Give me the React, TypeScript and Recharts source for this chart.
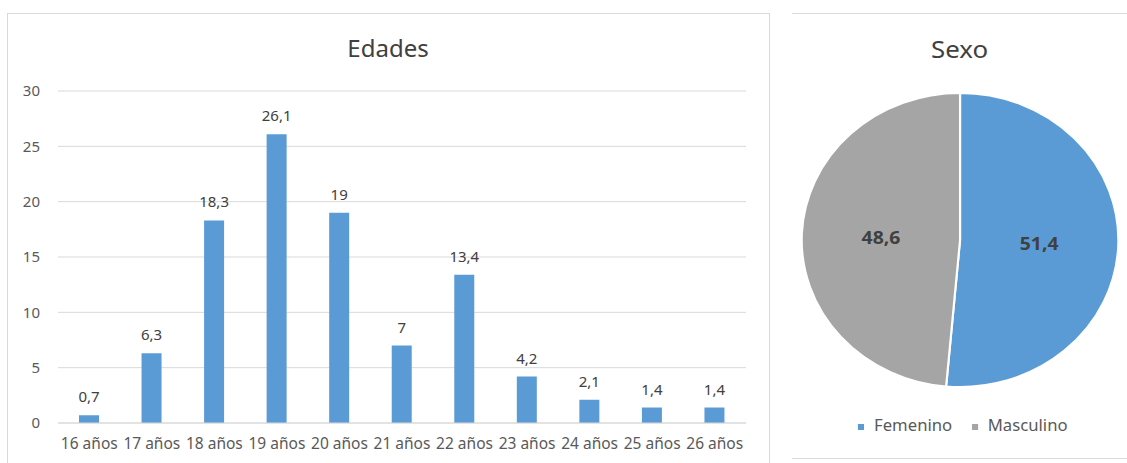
import React from "react";
import {
  BarChart,
  Bar,
  XAxis,
  YAxis,
  CartesianGrid,
  LabelList,
  PieChart,
  Pie,
  Cell,
  Legend,
} from "recharts";

const ageLabels = [
  "16 años",
  "17 años",
  "18 años",
  "19 años",
  "20 años",
  "21 años",
  "22 años",
  "23 años",
  "24 años",
  "25 años",
  "26 años",
];
const ageValues = [0.7, 6.3, 18.3, 26.1, 19, 7, 13.4, 4.2, 2.1, 1.4, 1.4];
const yTicks = [0, 5, 10, 15, 20, 25, 30];

const sexLabels = ["Femenino", "Masculino"];
const sexValues = [51.4, 48.6];
const sexColors = ["#5B9BD5", "#A5A5A5"];

const barData = ageLabels.map((name, i) => ({ name, value: ageValues[i] }));
const pieData = sexLabels.map((name, i) => ({ name, value: sexValues[i] }));

const FONT = "'Noto Sans', 'Open Sans', sans-serif";
const fmt = (v: any) => String(v).replace(".", ",");

const RAD = Math.PI / 180;
const renderPieLabel = (props: any) => {
  const { cx, cy, midAngle, outerRadius, value } = props;
  const r = outerRadius * 0.5;
  const x = cx + r * Math.cos(-midAngle * RAD);
  const y = cy + r * Math.sin(-midAngle * RAD);
  return (
    <text
      x={x}
      y={y}
      fill="#404040"
      fontSize={18}
      fontWeight="bold"
      fontFamily={FONT}
      textAnchor="middle"
      dominantBaseline="central"
    >
      {fmt(value)}
    </text>
  );
};

export default function App() {
  const SCALE = 335 / 311;
  return (
    <div
      style={{
        position: "absolute",
        left: 0,
        top: 0,
        width: 1127,
        height: 463,
        overflow: "hidden",
        background: "#fff",
        fontFamily: FONT,
      }}
    >
      {/* left box */}
      <div
        style={{
          position: "absolute",
          left: 7,
          top: 13,
          width: 761,
          height: 470,
          border: "1px solid #D9D9D9",
        }}
      />
      <div
        style={{
          position: "absolute",
          left: 7,
          top: 30,
          width: 762,
          textAlign: "center",
          fontSize: 24,
          color: "#404040",
          lineHeight: "36px",
        }}
      >
        Edades
      </div>
      <div style={{ position: "absolute", left: 0, top: 0 }}>
        <BarChart
          width={770}
          height={463}
          data={barData}
          margin={{ top: 91, right: 24, left: 0, bottom: 0 }}
          barCategoryGap="0%"
        >
          <CartesianGrid vertical={false} stroke="#D9D9D9" />
          <XAxis
            dataKey="name"
            height={40}
            interval={0}
            tickLine={false}
            axisLine={{ stroke: "#D9D9D9" }}
            tick={{ fill: "#595959", fontSize: 15.5, fontFamily: FONT }}
            tickMargin={9}
          />
          <YAxis
            width={58}
            domain={[0, 30]}
            ticks={yTicks}
            interval={0}
            tickLine={false}
            axisLine={false}
            tick={{ fill: "#595959", fontSize: 15, fontFamily: FONT }}
            tickMargin={12}
          />
          <Bar
            dataKey="value"
            fill="#5B9BD5"
            barSize={20}
            isAnimationActive={false}
          >
            <LabelList
              dataKey="value"
              position="top"
              offset={13}
              formatter={fmt}
              fill="#404040"
              fontSize={15}
              fontFamily={FONT}
            />
          </Bar>
        </BarChart>
      </div>

      {/* right box */}
      <div
        style={{
          position: "absolute",
          left: 792,
          top: 13,
          width: 335,
          height: 444,
          borderTop: "1px solid #D9D9D9",
          borderBottom: "1px solid #D9D9D9",
        }}
      >
        <div
          style={{
            position: "absolute",
            left: 0,
            top: 0,
            width: 311,
            height: 444,
            transform: `scaleX(${SCALE})`,
            transformOrigin: "0 0",
          }}
        >
          <div
            style={{
              position: "absolute",
              left: 0,
              top: 17,
              width: 311,
              textAlign: "center",
              fontSize: 24,
              color: "#404040",
              lineHeight: "36px",
            }}
          >
            Sexo
          </div>
          <div style={{ position: "absolute", left: 0, top: 0 }}>
            <PieChart
              width={311}
              height={444}
              margin={{ top: 0, right: 0, bottom: 0, left: 0 }}
            >
              <Pie
                data={pieData}
                dataKey="value"
                nameKey="name"
                cx={156}
                cy={226}
                outerRadius={147}
                startAngle={90}
                endAngle={-270}
                stroke="#ffffff"
                strokeWidth={2}
                label={renderPieLabel}
                labelLine={false}
                isAnimationActive={false}
              >
                {pieData.map((d, i) => (
                  <Cell key={d.name} fill={sexColors[i]} />
                ))}
              </Pie>
              <Legend
                verticalAlign="bottom"
                align="center"
                iconType="square"
                iconSize={6}
                wrapperStyle={{ top: 400, bottom: "auto", left: 12, width: 311 }}
                formatter={(value: any) => (
                  <span
                    style={{
                      color: "#595959",
                      fontSize: 15.5,
                      fontFamily: FONT,
                      marginLeft: 5,
                      marginRight: 8,
                    }}
                  >
                    {value}
                  </span>
                )}
              />
            </PieChart>
          </div>
        </div>
      </div>
    </div>
  );
}
